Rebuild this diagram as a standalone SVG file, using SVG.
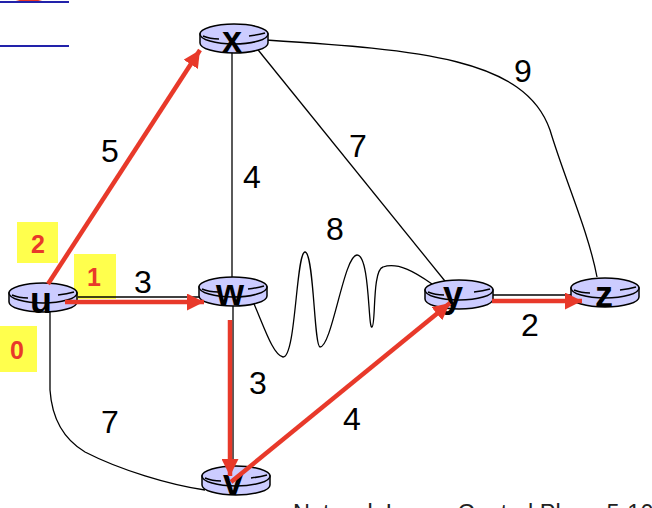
<svg xmlns="http://www.w3.org/2000/svg" width="652" height="508" viewBox="0 0 652 508">
<style>
.edge{fill:none;stroke:#000;stroke-width:1.3}
.path{fill:none;stroke:#e8392a;stroke-width:4.5}
.lbl{font-family:"Liberation Sans",Arial,sans-serif;font-size:32px;fill:#000;text-anchor:middle}
.name{font-family:"Liberation Sans",Arial,sans-serif;font-size:36px;font-weight:bold;fill:#000;text-anchor:middle}
.dist{font-family:"Liberation Sans",Arial,sans-serif;font-size:25px;font-weight:bold;fill:#e8392a;text-anchor:middle}
.box{fill:#ffff4d}
.foot{font-family:"Liberation Sans",Arial,sans-serif;font-size:23.5px;fill:#222}
</style>
<defs>
<g id="router">
<path d="M-34,0 L-34,9 A34,10 0 0 0 34,9 L34,0 Z" fill="#ccccff" stroke="#000" stroke-width="1.5"/>
<ellipse cx="0" cy="0" rx="34" ry="10" fill="#ccccff" stroke="#000" stroke-width="1.5"/>
<path d="M-31,2 Q-24,5 -15,5 M15,2 Q24,1 31,-1" fill="none" stroke="#000" stroke-width="1.5"/>
</g>
<marker id="ah" viewBox="0 0 10 10" refX="10" refY="5" markerWidth="17" markerHeight="17" markerUnits="userSpaceOnUse" orient="auto">
<path d="M0,0 L10,5 L0,10 Z" fill="#e8392a"/>
</marker>
</defs>
<rect width="652" height="508" fill="#fff"/>
<g id="header">
<ellipse cx="29" cy="-6" rx="20" ry="8" fill="#e8392a"/>
<line x1="0" y1="2" x2="69" y2="2" stroke="#2222aa" stroke-width="2"/>
<line x1="0" y1="46" x2="69" y2="46" stroke="#2222aa" stroke-width="2"/>
</g>
<g id="distances">
<rect class="box" x="17" y="222" width="41" height="41"/>
<text class="dist" x="38" y="253">2</text>
<rect class="box" x="74" y="254" width="42" height="45"/>
<text class="dist" x="94" y="286">1</text>
<rect class="box" x="0" y="326" width="37" height="46"/>
<text class="dist" x="17" y="359">0</text>
</g>
<g id="connectors">
<line class="edge" x1="232" y1="50" x2="232" y2="278"/>
<line class="edge" x1="246" y1="35" x2="453" y2="291"/>
<path class="edge" d="M266,40 C420,50 525,58 550,130 C565,180 588,230 597,277"/>
<line class="edge" x1="78" y1="297" x2="200" y2="297"/>
<path class="edge" d="M50,312 L50,390 C52,420 65,440 85,452 C120,470 170,485 205,490"/>
<path class="edge" d="M250,295 C262,320 272,355 283,357 C296,358 296,252 305,252 C314,252 314,347 320,347 C332,347 344,255 357,255 C370,255 368,330 372,327 C376,325 372,270 383,267 C398,262 415,272 432,284"/>
<line class="edge" x1="233" y1="305" x2="233" y2="466"/>
<line class="edge" x1="492" y1="295" x2="572" y2="295"/>
<text class="lbl" x="110" y="162">5</text>
<text class="lbl" x="252" y="188">4</text>
<text class="lbl" x="358" y="157">7</text>
<text class="lbl" x="523" y="82">9</text>
<text class="lbl" x="335" y="240">8</text>
<text class="lbl" x="143" y="293">3</text>
<text class="lbl" x="258" y="394">3</text>
<text class="lbl" x="352" y="430">4</text>
<text class="lbl" x="530" y="336">2</text>
<text class="lbl" x="110" y="433">7</text>
</g>
<g id="node-x"><use href="#router" x="234" y="34"/><text class="name" x="232" y="52">x</text></g>
<g id="node-u"><use href="#router" x="43" y="293"/><text class="name" x="41" y="313">u</text></g>
<g id="node-w"><use href="#router" x="233" y="287"/><text class="name" x="230" y="305">w</text></g>
<g id="node-y"><use href="#router" x="459" y="290"/><text class="name" x="453" y="307">y</text></g>
<g id="node-z"><use href="#router" x="605" y="288"/><text class="name" x="604" y="307">z</text></g>
<g id="node-v"><use href="#router" x="236" y="476"/><text class="name" x="233" y="495">v</text></g>
<g id="shortest-path">
<line class="path" x1="48" y1="284" x2="200" y2="50" marker-end="url(#ah)"/>
<line class="path" x1="65" y1="302" x2="204" y2="302" marker-end="url(#ah)"/>
<line class="path" x1="230" y1="320" x2="230" y2="476" marker-end="url(#ah)"/>
<line class="path" x1="231" y1="482" x2="450" y2="303" marker-end="url(#ah)"/>
<line class="path" x1="492" y1="301" x2="582" y2="301" marker-end="url(#ah)"/>
</g>
<text class="foot" x="293" y="521">Network Layer: Control Plane 5-10</text>
</svg>
